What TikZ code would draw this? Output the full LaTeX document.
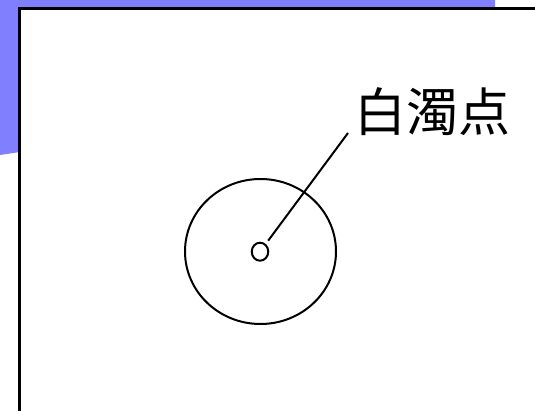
\documentclass[tikz,border=0pt]{standalone}
\usepackage{fontspec}
\newfontfamily\cjk{Noto Sans CJK JP}
\usetikzlibrary{shapes.geometric}
\definecolor{bluebg}{RGB}{128,128,255}
\tikzset{
  ring/.style={draw, ellipse, inner sep=0pt, line width=2pt},
  leader/.style={draw, line width=2pt},
  lbltext/.style={inner sep=0pt, font=\cjk\fontsize{52}{52}\selectfont}
}
\begin{document}
\begin{tikzpicture}[x=1pt,y=-1pt]
\useasboundingbox (0,0) rectangle (535,411);
\clip (0,0) rectangle (535,411);
\fill[bluebg] (0,0) -- (495,0) -- (495,12) -- (20,12) -- (20,152) -- (0,155) -- cycle;
\draw[line width=2.5pt, fill=white] (19.5,8.5) rectangle (570,440);
\node[ring, minimum width=151pt, minimum height=145pt] (outer) at (260.5,251.5) {};
\node[ring, minimum width=16.5pt, minimum height=18pt] (spot) at (260,251.7) {};
\node[lbltext] (lbl) at (432,112) {白濁点};
\coordinate (tip) at (348,133);
\draw[leader, shorten <=4pt] (spot) -- (tip);
\end{tikzpicture}
\end{document}
